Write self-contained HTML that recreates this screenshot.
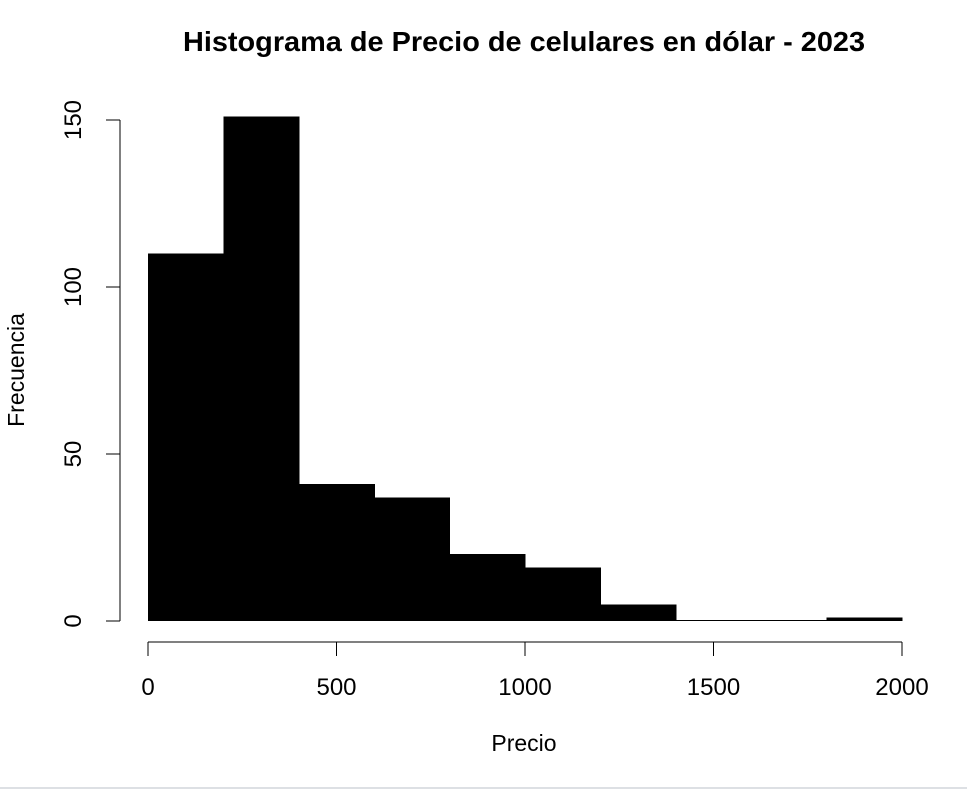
<!DOCTYPE html>
<html><head><meta charset="utf-8"><style>
body{margin:0;background:#fff;}
svg{display:block;font-family:"Liberation Sans",Arial,sans-serif;}
</style></head><body>
<svg id="chart" width="967" height="790">
<text x="524" y="51" text-anchor="middle" font-size="28" font-weight="bold" textLength="682" lengthAdjust="spacingAndGlyphs">Histograma de Precio de celulares en dólar - 2023</text>
<text x="524" y="751" text-anchor="middle" font-size="23">Precio</text>
<text transform="translate(24,370) rotate(-90)" text-anchor="middle" font-size="23">Frecuencia</text>
<g id="bars" shape-rendering="crispEdges"></g>
<g id="xaxis"></g>
<g id="yaxis"></g>
<rect x="0" y="787" width="967" height="2" fill="#dde0e4"></rect>
</svg>
<script>
const binStarts = [0,200,400,600,800,1000,1200,1400,1600,1800];
const binWidth = 200;
const counts = [110,151,41,37,20,16,5,0,0,1];
const xTicks = [0,500,1000,1500,2000];
const yTicks = [0,50,100,150];

const NS = "http://www.w3.org/2000/svg";
function xs(v){ return 148 + v*(754/2000); }
function ys(v){ return 621 - v*(501/150); }
function mk(tag, attrs, parent){
  const e = document.createElementNS(NS, tag);
  for (const k in attrs) e.setAttribute(k, attrs[k]);
  parent.appendChild(e); return e;
}
const bars = document.getElementById('bars');
counts.forEach((c,i)=>{
  const x0 = xs(binStarts[i]), x1 = xs(binStarts[i]+binWidth);
  const y = ys(c);
  const r = mk('rect',{x:x0,y:Math.min(y,620),width:x1-x0+0.6,height:Math.max(621-y,1),fill:'#000'},bars);
  
  
});
const xa = document.getElementById('xaxis');
mk('line',{x1:xs(xTicks[0]),x2:xs(xTicks[xTicks.length-1]),y1:642,y2:642,stroke:'#000','stroke-width':1},xa);
xTicks.forEach(t=>{
  mk('line',{x1:xs(t),x2:xs(t),y1:642,y2:656,stroke:'#000','stroke-width':1},xa);
  const tx = mk('text',{x:xs(t),y:695,'text-anchor':'middle','font-size':24},xa);
  tx.textContent = t;
  
  
});
const ya = document.getElementById('yaxis');
mk('line',{x1:120,x2:120,y1:ys(yTicks[0]),y2:ys(yTicks[yTicks.length-1]),stroke:'#000','stroke-width':1},ya);
yTicks.forEach(t=>{
  mk('line',{x1:106,x2:120,y1:ys(t),y2:ys(t),stroke:'#000','stroke-width':1},ya);
  const tx = mk('text',{'text-anchor':'middle','font-size':24,transform:'translate(81,'+ys(t)+') rotate(-90)'},ya);
  tx.textContent = t;
  
  
});
</script>
</body></html>
